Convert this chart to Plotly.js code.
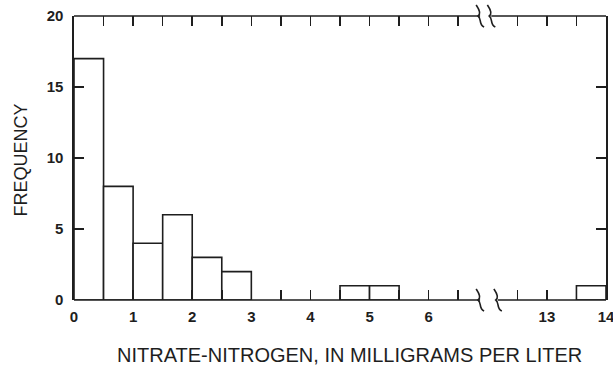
<!DOCTYPE html>
<html>
<head>
<meta charset="utf-8">
<script src="https://cdn.plot.ly/plotly-3.0.1.min.js"></script>
<style>html,body{margin:0;padding:0;background:#fff;}#chart{width:613px;height:367px;}</style>
</head>
<body>
<div id="chart"></div>
<script>
// Histogram data: bin start (mg/L) and frequency
const binStart = [0, 0.5, 1, 1.5, 2, 2.5, 4.5, 5, 13.5];
const frequency = [17, 8, 4, 6, 3, 2, 1, 1, 1];
const binWidth = 0.5;
// x-axis labels (mg/L)
const xLabelValues = [0, 1, 2, 3, 4, 5, 6, 13, 14];
const yTickValues = [0, 5, 10, 15, 20];
const xTitle = 'NITRATE-NITROGEN, IN MILLIGRAMS PER LITER';
const yTitle = 'FREQUENCY';
// broken axis: values 6.5..12.5 are skipped
const breakStart = 6.5, breakEnd = 12.5, breakGap = 1.0;

const shift = breakEnd - breakStart - breakGap; // 5
function disp(v) { return v >= breakEnd ? v - shift : v; }

const ink = '#1e1e1e';
const fam = 'Liberation Sans, Arial, sans-serif';
const tickFont = {family: fam, size: 15, color: ink, weight: 'bold'};

// ticks every half unit (skip the break)
const tickVals = [], tickText = [];
for (let v = 0; v <= 14.001; v += 0.5) {
  if (v > breakStart && v < breakEnd) continue;
  tickVals.push(disp(v));
  tickText.push(xLabelValues.includes(v) ? String(v) : '');
}

const trace = {
  type: 'bar',
  x: binStart.map(b => disp(b + binWidth / 2)),
  y: frequency,
  width: binWidth,
  marker: {color: '#ffffff', line: {color: ink, width: 1.6}},
  hoverinfo: 'skip'
};

const xMax = disp(14);
const brkA = 6.87, brkBbot = 7.17, brkBtop = 7.06;
const squig = 'M 4,-11 C -2,-8 2,-3 -2,0 C 2,3 -2,8 -4,11';
function sq(xa, ya) {
  return {type: 'path', xref: 'x', yref: 'paper', xsizemode: 'pixel', ysizemode: 'pixel',
          xanchor: xa, yanchor: ya, path: squig, line: {color: ink, width: 1.6}, layer: 'above'};
}
function seg(x0, x1, y) {
  return {type: 'line', xref: 'x', yref: 'paper', x0: x0, x1: x1, y0: y, y1: y,
          line: {color: ink, width: 1.6}, layer: 'above'};
}

const layout = {
  width: 613, height: 367,
  margin: {l: 74, r: 7, t: 16, b: 67},
  paper_bgcolor: '#fff', plot_bgcolor: '#fff',
  showlegend: false,
  bargap: 0,
  font: {family: fam, color: ink},
  xaxis: {
    range: [0, xMax], showgrid: false, zeroline: false, showline: false,
    tickmode: 'array', tickvals: tickVals, ticktext: tickText,
    ticks: 'inside', ticklen: 10, tickwidth: 1.6, tickcolor: ink, mirror: 'ticks',
    tickfont: tickFont, ticklabelstandoff: 6, ticklabeloverflow: 'allow'
  },
  yaxis: {
    range: [0, 20], showgrid: false, zeroline: false, showline: true, linecolor: ink, linewidth: 1.6,
    tickmode: 'array', tickvals: yTickValues,
    ticks: 'inside', ticklen: 10, tickwidth: 1.6, tickcolor: ink, mirror: 'ticks',
    tickfont: tickFont, ticklabelstandoff: 6
  },
  annotations: [
    {text: xTitle, xref: 'paper', yref: 'paper', x: 0.518, y: -0.194, xanchor: 'center', yanchor: 'middle',
     showarrow: false, font: {family: fam, size: 20, color: ink}},
    {text: yTitle, xref: 'paper', yref: 'paper', x: -0.0996, y: 0.491, xanchor: 'center', yanchor: 'middle',
     textangle: -90, showarrow: false, font: {family: fam, size: 18, color: ink}}
  ],
  shapes: [
    seg(0, brkA, 0), seg(brkBbot, xMax, 0),
    seg(0, brkA, 1), seg(brkBtop, xMax, 1),
    sq(brkA, 0), sq(brkBbot, 0), sq(brkA, 1), sq(brkBtop, 1)
  ]
};

Plotly.newPlot('chart', [trace], layout, {staticPlot: true, displayModeBar: false});
</script>
</body>
</html>
